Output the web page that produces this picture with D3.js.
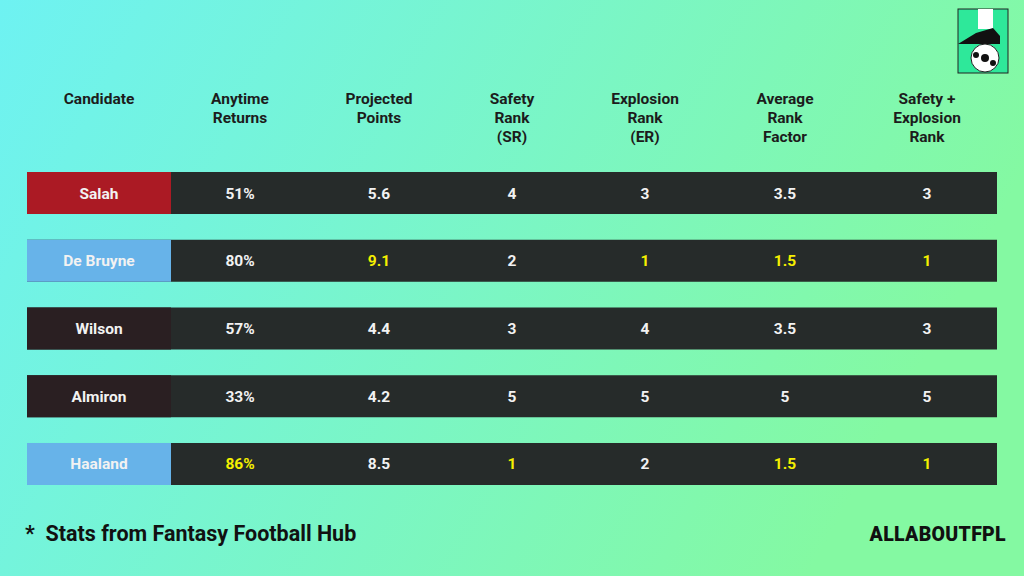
<!DOCTYPE html><html><head><meta charset="utf-8"><script src="https://cdn.jsdelivr.net/npm/d3@7"></script>
<style>body{margin:0;}svg{display:block;font-family:Roboto,sans-serif;}</style></head><body><svg id="c" width="1024" height="576"></svg>
<script>
const headers=[["Candidate"],["Anytime","Returns"],["Projected","Points"],["Safety","Rank","(SR)"],["Explosion","Rank","(ER)"],["Average","Rank","Factor"],["Safety +","Explosion","Rank"]];
const candidates=["Salah","De Bruyne","Wilson","Almiron","Haaland"];
const nameColors=["#ab1a24","#67b3e9","#2a1f22","#2a1f22","#67b3e9"];
const returns=["51%","80%","57%","33%","86%"];
const points=["5.6","9.1","4.4","4.2","8.5"];
const safety=["4","2","3","5","1"];
const explosion=["3","1","4","5","2"];
const avgRank=["3.5","1.5","3.5","5","1.5"];
const combRank=["3","1","3","5","1"];
const highlight=[[],[2,4,5,6],[],[],[1,3,5,6]];
const svg=d3.select("#c");
const defs=svg.append("defs");
const g=defs.append("linearGradient").attr("id","bg").attr("x1","0").attr("y1","0").attr("x2","1").attr("y2","0.3");
g.append("stop").attr("offset","0").attr("stop-color","#6ef2f2");
g.append("stop").attr("offset","1").attr("stop-color","#84f9a2");
svg.append("rect").attr("width",1024).attr("height",576).attr("fill","url(#bg)");
const colX=[99,240,379,512,645,785,927];
const y=d3.scaleBand().domain(candidates).range([172,485]).paddingInner(0.38);
headers.forEach((h,i)=>{h.forEach((t,j)=>svg.append("text").attr("x",colX[i]).attr("y",104+j*19).attr("text-anchor","middle").attr("font-size",15.5).attr("font-weight",700).attr("fill","#1c1c1c").text(t));});
const cols=[returns,points,safety,explosion,avgRank,combRank];
candidates.forEach((c,r)=>{
 const yy=y(c),h=y.bandwidth();
 svg.append("rect").attr("x",27).attr("y",yy).attr("width",970).attr("height",h).attr("fill","#262b2a");
 svg.append("rect").attr("x",27).attr("y",yy).attr("width",144).attr("height",h).attr("fill",nameColors[r]);
 svg.append("text").attr("x",colX[0]).attr("y",yy+h/2+5.5).attr("text-anchor","middle").attr("font-size",15.5).attr("font-weight",700).attr("fill","#f2f2f2").text(c);
 cols.forEach((arr,k)=>svg.append("text").attr("x",colX[k+1]).attr("y",yy+h/2+5.5).attr("text-anchor","middle").attr("font-size",15.5).attr("font-weight",700).attr("fill",highlight[r].includes(k+1)?"#f5f000":"#f2f2f2").text(arr[r]));
});
svg.append("text").attr("x",25).attr("y",541).attr("font-size",21.5).attr("font-weight",700).attr("fill","#111").attr("xml:space","preserve").text("*  Stats from Fantasy Football Hub");
svg.append("text").attr("x",1006).attr("y",541).attr("text-anchor","end").attr("font-size",19.5).attr("font-weight",900).attr("letter-spacing",0.3).attr("fill","#111").text("ALLABOUTFPL");
// logo
const L=svg.append("g");
L.append("rect").attr("x",958).attr("y",9).attr("width",50).attr("height",64).attr("fill","#2ee89a").attr("stroke","#222").attr("stroke-width",1);
L.append("rect").attr("x",978).attr("y",9).attr("width",15).attr("height",20).attr("fill","#fff");
L.append("path").attr("d","M958,44 L976,33 L993,28 L1000,36 L1000,44 Z").attr("fill","#111");
L.append("circle").attr("cx",985).attr("cy",58).attr("r",14).attr("fill","#fff").attr("stroke","#222");
L.append("circle").attr("cx",985).attr("cy",58).attr("r",4).attr("fill","#111");
L.append("circle").attr("cx",976).attr("cy",55).attr("r",3).attr("fill","#111");
L.append("circle").attr("cx",993).attr("cy",63).attr("r",3).attr("fill","#111");
</script></body></html>
